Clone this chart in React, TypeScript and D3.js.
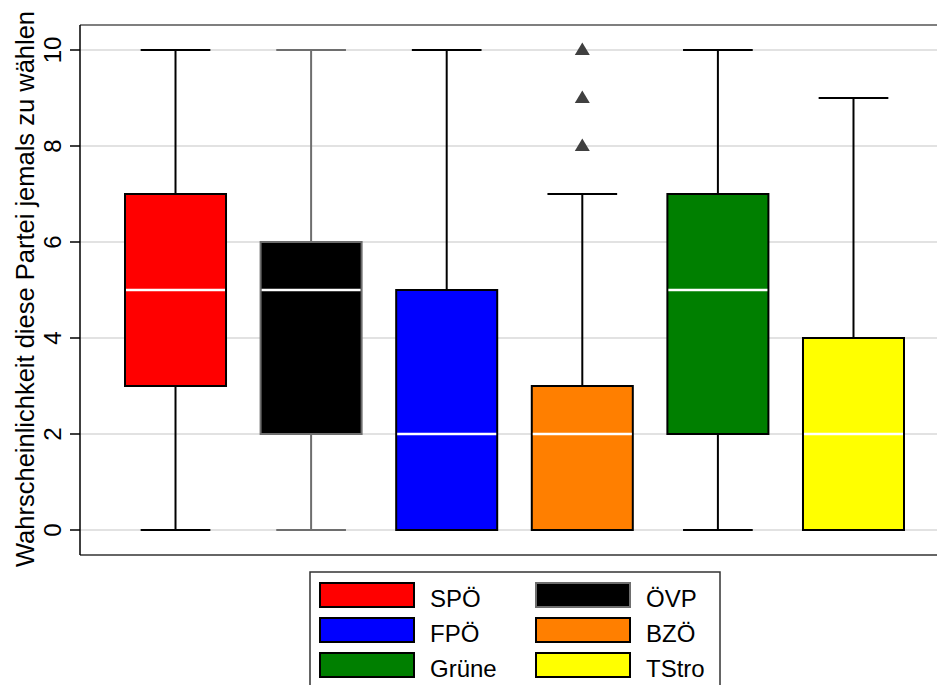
import React, { useRef, useEffect } from "react";
import * as d3 from "d3";

const parties = ["SPÖ", "ÖVP", "FPÖ", "BZÖ", "Grüne", "TStro"];
const fills = ["#ff0000", "#000000", "#0000ff", "#ff7f00", "#007f00", "#ffff00"];
const strokes = ["#000000", "#6e6e6e", "#000000", "#000000", "#000000", "#000000"];
const lowerWhisker = [0, 0, 0, 0, 0, 0];
const q1 = [3, 2, 0, 0, 2, 0];
const median = [5, 5, 2, 2, 5, 2];
const q3 = [7, 6, 5, 3, 7, 4];
const upperWhisker = [10, 10, 10, 7, 10, 9];
const outliers = [[], [], [], [8, 9, 10], [], []];
const yTicks = [0, 2, 4, 6, 8, 10];

const App = () => {
  const ref = useRef(null);

  useEffect(() => {
    const svg = d3.select(ref.current);
    svg.selectAll("*").remove();
    const font = "Liberation Sans, Arial, sans-serif";

    const x = d3.scaleBand().domain(parties).range([125, 904]).paddingInner(0.255).paddingOuter(0);
    const y = d3.scaleLinear().domain([0, 10]).range([530, 50]);
    const bw = x.bandwidth();
    const capW = bw * 0.69;

    // gridlines
    svg
      .append("g")
      .selectAll("line")
      .data(yTicks)
      .enter()
      .append("line")
      .attr("x1", 80)
      .attr("x2", 937)
      .attr("y1", (d) => y(d))
      .attr("y2", (d) => y(d))
      .attr("stroke", "#e2e2e2")
      .attr("stroke-width", 2);

    // frame
    svg.append("line").attr("x1", 80).attr("x2", 937).attr("y1", 25).attr("y2", 25).attr("stroke", "#555").attr("stroke-width", 1.5);
    svg.append("line").attr("x1", 80).attr("x2", 937).attr("y1", 555).attr("y2", 555).attr("stroke", "#333").attr("stroke-width", 1.5);
    svg.append("line").attr("x1", 80).attr("x2", 80).attr("y1", 25).attr("y2", 555).attr("stroke", "#000").attr("stroke-width", 1.5);

    // axis ticks + labels
    const axis = svg.append("g");
    axis
      .selectAll("line")
      .data(yTicks)
      .enter()
      .append("line")
      .attr("x1", 70)
      .attr("x2", 80)
      .attr("y1", (d) => y(d))
      .attr("y2", (d) => y(d))
      .attr("stroke", "#000")
      .attr("stroke-width", 1.5);
    axis
      .selectAll("text")
      .data(yTicks)
      .enter()
      .append("text")
      .attr("transform", (d) => `translate(61,${y(d)}) rotate(-90)`)
      .attr("text-anchor", "middle")
      .attr("font-family", font)
      .attr("font-size", 24)
      .text((d) => d);

    svg
      .append("text")
      .attr("transform", "translate(34,289) rotate(-90)")
      .attr("text-anchor", "middle")
      .attr("font-family", font)
      .attr("font-size", 25.5)
      .text("Wahrscheinlichkeit diese Partei jemals zu wählen");

    // boxes
    const g = svg.append("g");
    parties.forEach((p, i) => {
      const x0 = x(p) as number;
      const cx = x0 + bw / 2;
      const st = strokes[i];
      // whiskers
      g.append("line").attr("x1", cx).attr("x2", cx).attr("y1", y(q3[i])).attr("y2", y(upperWhisker[i])).attr("stroke", st).attr("stroke-width", 2);
      g.append("line").attr("x1", cx).attr("x2", cx).attr("y1", y(q1[i])).attr("y2", y(lowerWhisker[i])).attr("stroke", st).attr("stroke-width", 2);
      g.append("line").attr("x1", cx - capW / 2).attr("x2", cx + capW / 2).attr("y1", y(upperWhisker[i])).attr("y2", y(upperWhisker[i])).attr("stroke", st).attr("stroke-width", 2);
      g.append("line").attr("x1", cx - capW / 2).attr("x2", cx + capW / 2).attr("y1", y(lowerWhisker[i])).attr("y2", y(lowerWhisker[i])).attr("stroke", st).attr("stroke-width", 2);
      g.append("rect")
        .attr("x", x0)
        .attr("y", y(q3[i]))
        .attr("width", bw)
        .attr("height", y(q1[i]) - y(q3[i]))
        .attr("fill", fills[i])
        .attr("stroke", st)
        .attr("stroke-width", 2);
      g.append("line").attr("x1", x0 + 1).attr("x2", x0 + bw - 1).attr("y1", y(median[i])).attr("y2", y(median[i])).attr("stroke", "#fff").attr("stroke-width", 2.5);
      outliers[i].forEach((v) => {
        const yy = y(v);
        g.append("path")
          .attr("d", `M${cx},${yy - 7.5}L${cx + 7.5},${yy + 5}L${cx - 7.5},${yy + 5}Z`)
          .attr("fill", "#404040");
      });
    });

    // legend
    const leg = svg.append("g");
    leg.append("rect").attr("x", 310).attr("y", 572).attr("width", 410).attr("height", 120).attr("fill", "#fff").attr("stroke", "#333").attr("stroke-width", 1.5);
    parties.forEach((p, i) => {
      const col = i % 2;
      const row = Math.floor(i / 2);
      const sx = col === 0 ? 320 : 536;
      const sy = 583 + row * 35;
      leg.append("rect").attr("x", sx).attr("y", sy).attr("width", 94).attr("height", 24).attr("fill", fills[i]).attr("stroke", strokes[i]).attr("stroke-width", 2);
      leg.append("text")
        .attr("x", sx + 110)
        .attr("y", sy + 24)
        .attr("font-family", font)
        .attr("font-size", 24)
        .text(p);
    });
  }, []);

  return (
    <svg ref={ref} width={937} height={685} style={{ position: "absolute", left: 0, top: 0, background: "#fff" }}></svg>
  );
};

export default App;
